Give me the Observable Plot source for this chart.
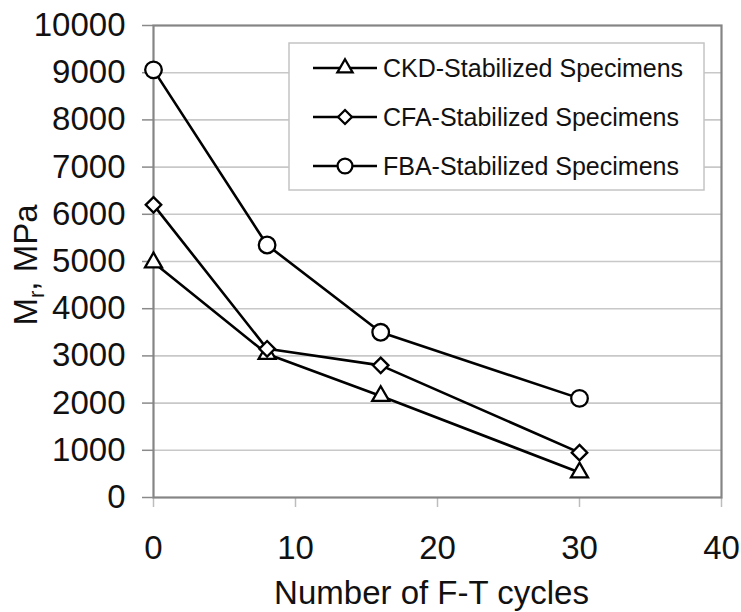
<!DOCTYPE html>
<html>
<head>
<meta charset="utf-8">
<script src="https://cdn.jsdelivr.net/npm/d3@7"></script>
<script src="https://cdn.jsdelivr.net/npm/@observablehq/plot@0.6"></script>
<style>
  html, body { margin: 0; padding: 0; background: #fff; }
  #chart { position: relative; width: 741px; height: 612px; }
</style>
</head>
<body>
<div id="chart"></div>
<script>
// ---- data ----
const cycles = [0, 8, 16, 30];
const ckdValues = [4980, 3040, 2150, 530];
const cfaValues = [6200, 3150, 2800, 950];
const fbaValues = [9060, 5350, 3500, 2100];
const seriesNames = ["CKD-Stabilized Specimens", "CFA-Stabilized Specimens", "FBA-Stabilized Specimens"];
const xTicks = [0, 10, 20, 30, 40];
const yTicks = [0, 1000, 2000, 3000, 4000, 5000, 6000, 7000, 8000, 9000, 10000];
const xLabel = "Number of F-T cycles";

const seriesSymbols = [
  {name: seriesNames[0], values: ckdValues, symbol: d3.symbolTriangle, r: 6.3},
  {name: seriesNames[1], values: cfaValues, symbol: d3.symbolDiamond2, r: 7.0},
  {name: seriesNames[2], values: fbaValues, symbol: d3.symbolCircle, r: 8.3}
];
const table = seriesSymbols.map(s => cycles.map((c, i) => ({series: s.name, x: c, y: s.values[i]})));

const font = "'Liberation Sans', Arial, sans-serif";

const marks = [
  Plot.ruleY(yTicks.filter(v => v > 0 && v < 10000), {stroke: "#c8c8c8", strokeWidth: 1.6}),
  Plot.axisY({ticks: yTicks, tickSize: 11, tickPadding: 17, stroke: "#8a8a8a", strokeWidth: 1.5, fontSize: 33, tickFormat: d => String(d), label: null}),
  Plot.axisX({ticks: xTicks, tickSize: 10, tickPadding: 28, stroke: "#bdbdbd", strokeWidth: 1.5, fontSize: 33, tickFormat: d => String(d), label: null}),
  Plot.frame({stroke: "#858585", strokeWidth: 2.2}),
  Plot.text([xLabel], {frameAnchor: "bottom", dx: -6, dy: 96, lineAnchor: "middle", fontSize: 33, fill: "#111"})
];
seriesSymbols.forEach((s, k) => {
  marks.push(Plot.line(table[k], {x: "x", y: "y", stroke: "#000", strokeWidth: 2.6}));
});
seriesSymbols.forEach((s, k) => {
  marks.push(Plot.dot(table[k], {x: "x", y: "y", symbol: s.symbol, r: s.r, fill: "#fff", stroke: "#000", strokeWidth: 2.3}));
});

const plot = Plot.plot({
  width: 741,
  height: 612,
  marginLeft: 153,
  marginRight: 20,
  marginTop: 25,
  marginBottom: 115,
  style: {fontFamily: font, fontSize: "33px", background: "#fff", color: "#111"},
  x: {domain: [0, 40]},
  y: {domain: [0, 10000]},
  marks
});
document.getElementById("chart").appendChild(plot);

// ---- y axis label with subscript ----
const svg = d3.select(plot);
const yl = svg.append("text")
  .attr("transform", "translate(37,265) rotate(-90)")
  .attr("text-anchor", "middle")
  .attr("font-family", font)
  .attr("font-size", 33)
  .attr("fill", "#111");
yl.append("tspan").text("M");
yl.append("tspan").attr("font-size", 22).attr("dy", 7).text("r");
yl.append("tspan").attr("dy", -7).text(", MPa");

// ---- legend ----
const lg = svg.append("g").attr("font-family", font).attr("font-size", 25);
lg.append("rect").attr("x", 289).attr("y", 43).attr("width", 415).attr("height", 147)
  .attr("fill", "#fff").attr("stroke", "#c4c4c4").attr("stroke-width", 1.5);
seriesSymbols.forEach((s, k) => {
  const cy = 68 + k * 49;
  lg.append("path").attr("d", `M313,${cy}H377`)
    .attr("fill", "none").attr("stroke", "#000").attr("stroke-width", 2.6);
  lg.append("path").attr("transform", `translate(345,${cy})`)
    .attr("d", d3.symbol(s.symbol, s.r * s.r * Math.PI * 0.8)())
    .attr("fill", "#fff").attr("stroke", "#000").attr("stroke-width", 2.3);
  lg.append("text").attr("x", 383).attr("y", cy).attr("dy", "0.35em")
    .attr("text-anchor", "start").attr("fill", "#111").text(s.name);
});
</script>
</body>
</html>
